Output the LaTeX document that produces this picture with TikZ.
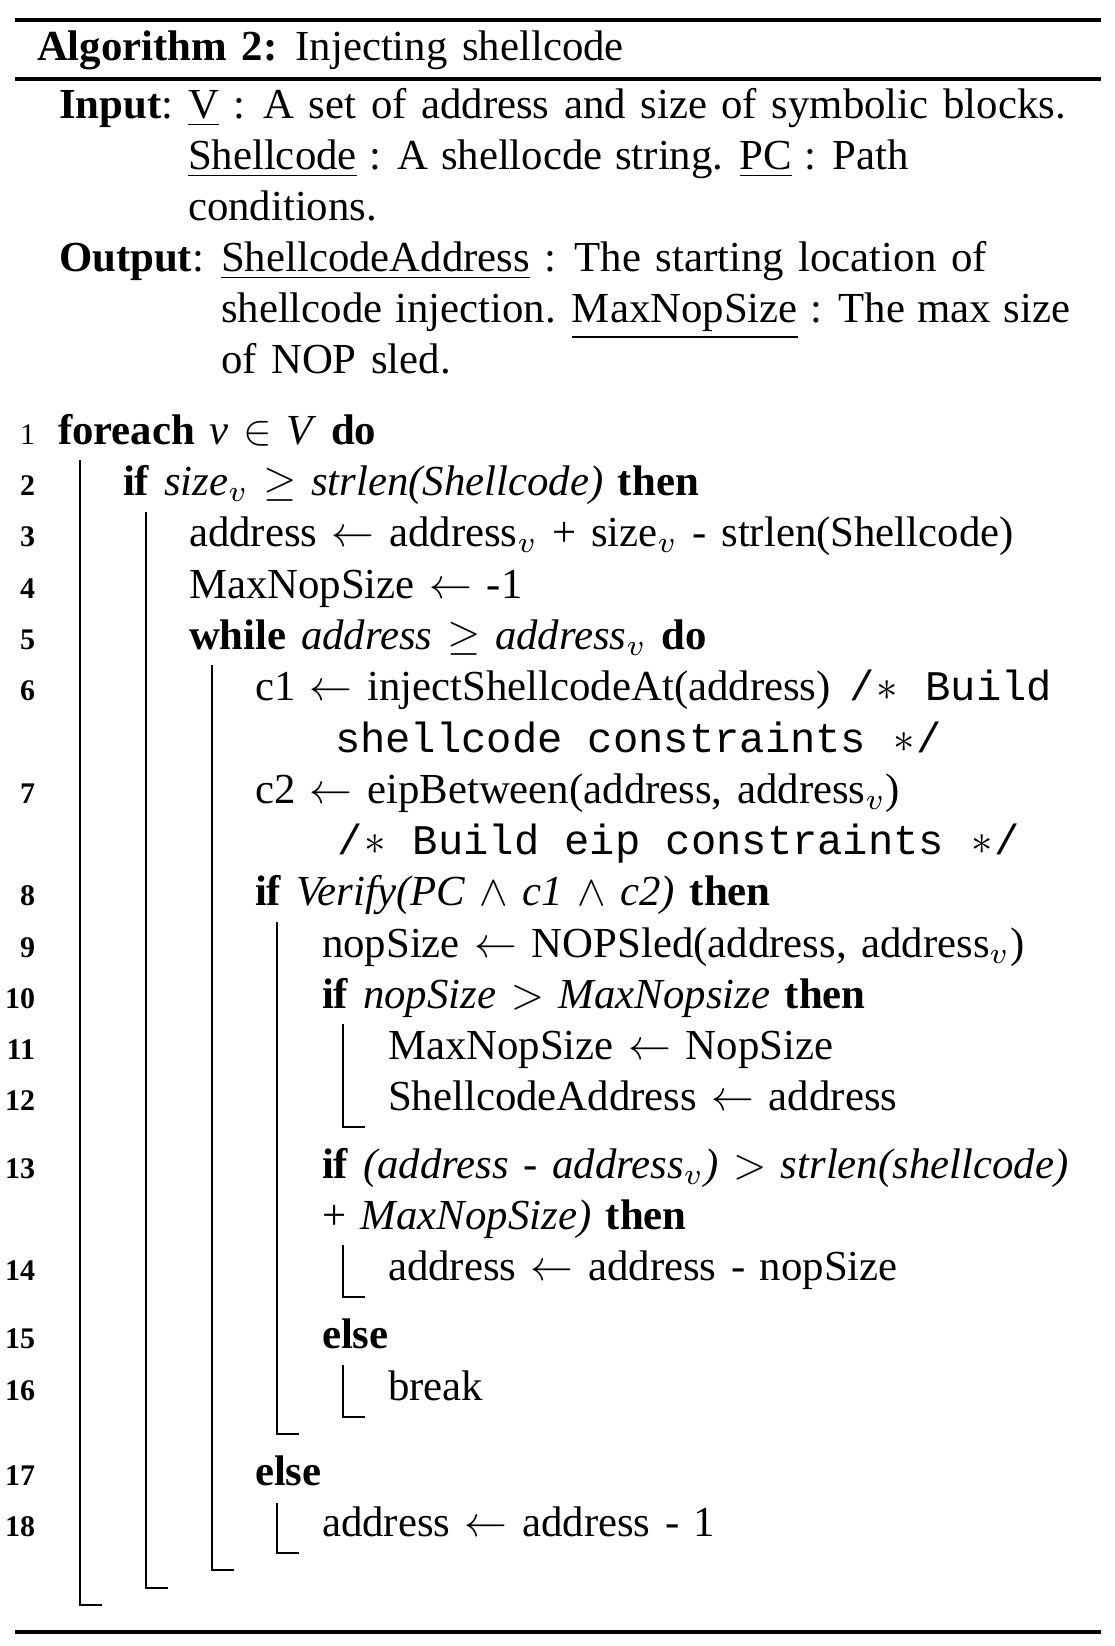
\documentclass[tikz,border=0pt]{standalone}
\usepackage{fontspec}
\setmainfont{Liberation Serif}
\setmonofont{Liberation Mono}
\newcommand{\cst}{\makebox[0.6em]{$\ast$}}
\newcommand{\cmt}[1]{{\fontsize{9.85}{12}\ttfamily\spaceskip=0pt\relax #1}}
\newcommand{\wsp}{\spaceskip=3.4pt plus 1pt minus 0.5pt\relax}
\newcommand{\nsp}{\spaceskip=2.95pt plus 1pt minus 0.5pt\relax}
\begin{document}
\begin{tikzpicture}[x=0.23364pt,y=-0.23364pt,
  txt/.style={anchor=base west,inner sep=0pt,outer sep=0pt,font=\fontsize{10}{12}\selectfont,execute at begin node={\wsp}},
  txr/.style={anchor=base east,inner sep=0pt,outer sep=0pt,font=\fontsize{10}{12}\selectfont},
  num/.style={anchor=base east,inner sep=0pt,outer sep=0pt,font=\fontsize{7}{8}\selectfont\bfseries},
  numr/.style={anchor=base east,inner sep=0pt,outer sep=0pt,font=\fontsize{7}{8}\selectfont},
  hrl/.style={line width=0.8pt},
  vbar/.style={line width=0.4pt}]
\useasboundingbox (0,0) rectangle (1114,1646);
% rules
\coordinate (r1a) at (15,20); \coordinate (r1b) at (1101,20);
\coordinate (r2a) at (15,79); \coordinate (r2b) at (1101,79);
\coordinate (r3a) at (15,1632); \coordinate (r3b) at (1101,1632);
\draw[hrl] (r1a) -- (r1b);
\draw[hrl] (r2a) -- (r2b);
\draw[hrl] (r3a) -- (r3b);
% title
\node[txt] (title) at (37,60) {\textbf{Algorithm 2:} Injecting shellcode};
% input / output
\node[txt] (inlab) at (59,118) {\textbf{Input}:};
\node[txt] (in1) at (188,118) {\underline{V} : A set of address and size of symbolic blocks.};
\node[txt] (in2) at (188,169) {\nsp\underline{Shellcode} : A shellocde string. \underline{PC} : Path};
\node[txt] (in3) at (188,220) {conditions.};
\node[txt] (outlab) at (59,271) {\textbf{Output}:};
\node[txt] (out1) at (221,271) {\underline{ShellcodeAddress} : The starting location of};
\node[txt] (out2) at (221,322) {\nsp shellcode injection. \underline{MaxNopSize} : The max size};
\node[txt] (out3) at (221,373) {of NOP sled.};
% line numbers
\node[numr] (n1) at (35,444) {1};
\node[num] (n2) at (35,495) {2};
\node[num] (n3) at (35,546) {3};
\node[num] (n4) at (35,598) {4};
\node[num] (n5) at (35,649) {5};
\node[num] (n6) at (35,700) {6};
\node[num] (n7) at (35,803) {7};
\node[num] (n8) at (35,905) {8};
\node[num] (n9) at (35,957) {9};
\node[num] (n10) at (35,1008) {10};
\node[num] (n11) at (35,1059) {11};
\node[num] (n12) at (35,1110) {12};
\node[num] (n13) at (35,1178) {13};
\node[num] (n14) at (35,1280) {14};
\node[num] (n15) at (35,1348) {15};
\node[num] (n16) at (35,1400) {16};
\node[num] (n17) at (35,1485) {17};
\node[num] (n18) at (35,1536) {18};
% code lines
\node[txt] (l1) at (58,444) {\textbf{foreach} \textit{v} $\in$ \textit{V} \textbf{do}};
\node[txt] (l2) at (123,495) {\textbf{if} \emph{size$_v$ $\geq$ strlen(Shellcode)} \textbf{then}};
\node[txt] (l3) at (189,546) {address $\leftarrow$ address$_v$ + size$_v$ - strlen(Shellcode)};
\node[txt] (l4) at (189,598) {MaxNopSize $\leftarrow$ -1};
\node[txt] (l5) at (189,649) {\textbf{while} \emph{address $\geq$ address$_v$} \textbf{do}};
\node[txt] (l6) at (255,700) {c1 $\leftarrow$ injectShellcodeAt(address)};
\node[txr] (l6r) at (1052,700) {\cmt{/\cst{} Build}};
\node[txt] (l6c) at (335,752) {\cmt{shellcode constraints \cst/}};
\node[txt] (l7) at (255,803) {c2 $\leftarrow$ eipBetween(address, address$_v$)};
\node[txt] (l7c) at (337,854) {\cmt{/\cst{} Build eip constraints \cst/}};
\node[txt] (l8) at (255,905) {\textbf{if} \emph{Verify(PC $\wedge$ c1 $\wedge$ c2)} \textbf{then}};
\node[txt] (l9) at (322,957) {nopSize $\leftarrow$ NOPSled(address, address$_v$)};
\node[txt] (l10) at (322,1008) {\textbf{if} \emph{nopSize $>$ MaxNopsize} \textbf{then}};
\node[txt] (l11) at (388,1059) {MaxNopSize $\leftarrow$ NopSize};
\node[txt] (l12) at (388,1110) {ShellcodeAddress $\leftarrow$ address};
\node[txt] (l13) at (322,1178) {\textbf{if} \emph{(address - address$_v$) $>$ strlen(shellcode)}};
\node[txt] (l13c) at (322,1229) {+ \emph{MaxNopSize)} \textbf{then}};
\node[txt] (l14) at (388,1280) {address $\leftarrow$ address - nopSize};
\node[txt] (l15) at (322,1348) {\textbf{else}};
\node[txt] (l16) at (388,1400) {break};
\node[txt] (l17) at (255,1485) {\textbf{else}};
\node[txt] (l18) at (322,1536) {address $\leftarrow$ address - 1};
% block bars
\draw[vbar] (80,460) |- (102,1605);
\draw[vbar] (146,512) |- (168,1588);
\draw[vbar] (212,665) |- (234,1570);
\draw[vbar] (277,922) |- (299,1434);
\draw[vbar] (343,1024) |- (365,1127);
\draw[vbar] (343,1245) |- (365,1297);
\draw[vbar] (343,1365) |- (365,1417);
\draw[vbar] (277,1503) |- (299,1553);
\end{tikzpicture}
\end{document}
